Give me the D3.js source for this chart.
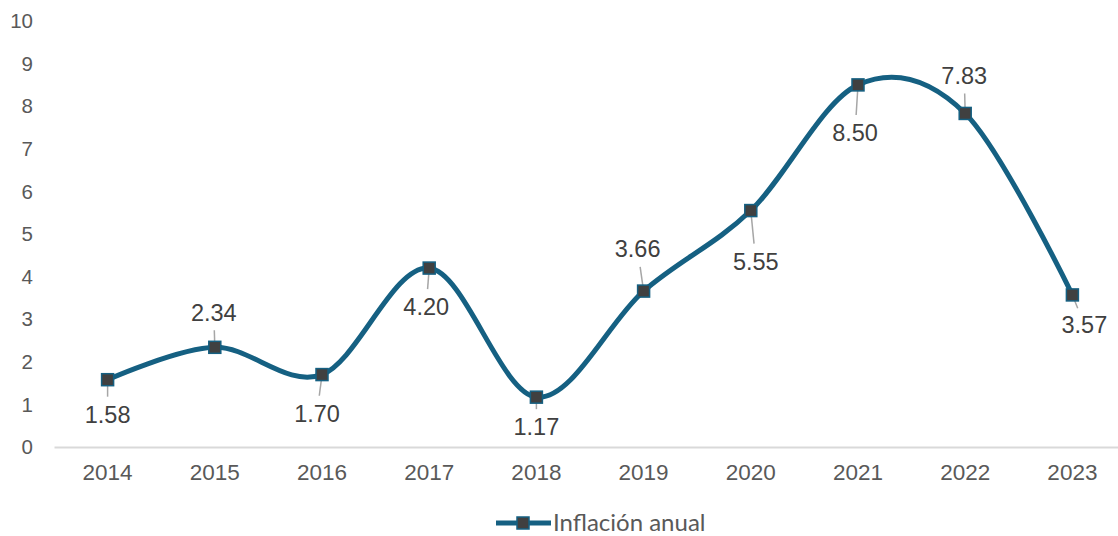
<!DOCTYPE html>
<html>
<head>
<meta charset="utf-8">
<script src="https://cdn.jsdelivr.net/npm/d3@7"></script>
<style>
    body { margin: 0; background: #fff; }
    svg { display: block; }
</style>
</head>
<body>
<div class="chart"></div>
<script>
const years = ["2014", "2015", "2016", "2017", "2018", "2019", "2020", "2021", "2022", "2023"];
const inflation = [1.58, 2.34, 1.70, 4.20, 1.17, 3.66, 5.55, 8.50, 7.83, 3.57];
const yTicks = [0, 1, 2, 3, 4, 5, 6, 7, 8, 9, 10];
const seriesName = "Inflación anual";
// label offsets from the marker (px)
const labelDx = [0, -1, -5, -3, 0, -6, 5, -3, -1, 12];
const labelDy = [35, -35, 39, 39, 30, -42, 51, 48, -38, 30];

const width = 1118, height = 536;
const blue = "#156082";

const svg = d3.select(".chart").append("svg")
    .attr("width", width)
    .attr("height", height);

const x = d3.scaleBand().domain(years).range([54, 1126]);
const y = d3.scaleLinear().domain([0, 10]).range([447, 21]);

// y labels
svg.append("g")
    .selectAll("text")
    .data(yTicks)
    .join("text")
    .attr("x", 33)
    .attr("y", d => y(d))
    .attr("dy", "0.35em")
    .attr("text-anchor", "end")
    .attr("font-family", "Liberation Sans, Arial, sans-serif")
    .attr("font-size", 20.5)
    .attr("fill", "#595959")
    .text(d => d);

// x axis
svg.append("g")
    .attr("transform", `translate(0,${y(0)})`)
    .call(d3.axisBottom(x).tickSize(0).tickPadding(17))
    .call(g => g.select(".domain").attr("stroke", "#d9d9d9").attr("stroke-width", 2))
    .call(g => g.selectAll("text")
        .attr("font-family", "Liberation Sans, Arial, sans-serif")
        .attr("font-size", 22.5)
        .attr("fill", "#595959"));

const cx = (d, i) => x(years[i]) + x.bandwidth() / 2;

const line = d3.line()
    .x(cx)
    .y(d => y(d))
    .curve(d3.curveCardinal.tension(0));

svg.append("path")
    .datum(inflation)
    .attr("fill", "none")
    .attr("stroke", blue)
    .attr("stroke-width", 5)
    .attr("d", line);

// leader lines
svg.append("g")
    .selectAll("line")
    .data(inflation)
    .join("line")
    .attr("x1", (d, i) => cx(d, i))
    .attr("y1", d => y(d))
    .attr("x2", (d, i) => {
        const len = Math.hypot(labelDx[i], labelDy[i]);
        return cx(d, i) + labelDx[i] * (len - 18) / len;
    })
    .attr("y2", (d, i) => {
        const len = Math.hypot(labelDx[i], labelDy[i]);
        return y(d) + labelDy[i] * (len - 18) / len;
    })
    .attr("stroke", "#a6a6a6")
    .attr("stroke-width", 1.5);

// markers
svg.append("g")
    .selectAll("rect")
    .data(inflation)
    .join("rect")
    .attr("x", (d, i) => cx(d, i) - 6)
    .attr("y", d => y(d) - 6)
    .attr("width", 12)
    .attr("height", 12)
    .attr("fill", "#404040")
    .attr("stroke", blue)
    .attr("stroke-width", 1.5);

// data labels
svg.append("g")
    .selectAll("text")
    .data(inflation)
    .join("text")
    .attr("x", (d, i) => cx(d, i) + labelDx[i])
    .attr("y", (d, i) => y(d) + labelDy[i])
    .attr("dy", "0.35em")
    .attr("text-anchor", "middle")
    .attr("font-family", "Liberation Sans, Arial, sans-serif")
    .attr("font-size", 23.5)
    .attr("fill", "#404040")
    .text(d => d.toFixed(2));

// legend
const lg = svg.append("g").attr("transform", "translate(496,523)");
lg.append("line")
    .attr("x1", 0).attr("x2", 55)
    .attr("stroke", blue).attr("stroke-width", 5);
lg.append("rect")
    .attr("x", 21).attr("y", -6).attr("width", 12).attr("height", 12)
    .attr("fill", "#404040").attr("stroke", blue).attr("stroke-width", 1.5);
lg.append("text")
    .attr("x", 57)
    .attr("dy", "0.35em")
    .attr("font-family", "Lato, sans-serif")
    .attr("font-size", 24)
    .attr("fill", "#595959")
    .text(seriesName);
</script>
</body>
</html>
